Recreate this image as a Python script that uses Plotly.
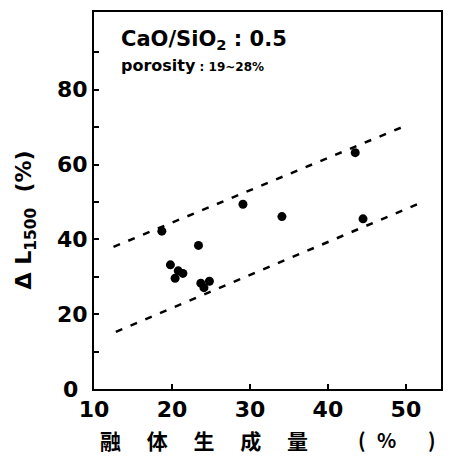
import plotly.graph_objects as go

# data points: melt formation (%) vs ΔL1500 (%)
melt_x = [18.7, 29.1, 34.1, 44.5, 43.5, 23.4, 19.8, 20.8, 21.4, 20.4, 23.7, 24.8, 24.1]
dl_y = [42.2, 49.4, 46.1, 45.5, 63.2, 38.4, 33.2, 31.6, 30.9, 29.6, 28.3, 28.8, 27.1]

# band lines (dashed)
upper_x = [12.5, 50.2]
upper_y = [38.0, 70.6]
lower_x = [12.8, 51.9]
lower_y = [15.3, 49.8]

y_tickvals = [0, 10, 20, 30, 40, 50, 60, 70, 80, 90]
y_ticktext = ["", "", "20", "", "40", "", "60", "", "80", ""]
x_tickvals = [10, 20, 30, 40, 50]
x_ticktext = ["10", "20", "30", "40", "50"]

fig = go.Figure()
for lx, ly in [(upper_x, upper_y), (lower_x, lower_y)]:
    fig.add_trace(go.Scatter(x=lx, y=ly, mode="lines",
                             line=dict(color="black", width=2.5, dash="7px,9px"),
                             showlegend=False, hoverinfo="skip"))
fig.add_trace(go.Scatter(x=melt_x, y=dl_y, mode="markers",
                         marker=dict(color="black", size=9),
                         showlegend=False))

tf = dict(family="DejaVu Sans", size=22, color="black", weight="bold")
cjk = dict(family="Noto Sans CJK SC", size=21, color="black", weight="bold")
par = dict(family="Noto Sans CJK SC", size=20, color="black", weight="bold")
fig.update_layout(
    width=451, height=460,
    margin=dict(l=94, r=10, t=12, b=71),
    plot_bgcolor="white", paper_bgcolor="white",
    xaxis=dict(range=[10, 54.5], tickvals=x_tickvals, ticktext=x_ticktext,
               ticks="inside", ticklen=5, tickwidth=2, tickcolor="black",
               showline=True, linecolor="black", linewidth=2, mirror=True,
               showgrid=False, zeroline=False, automargin=False, tickfont=tf),
    yaxis=dict(range=[0, 100.8], tickvals=y_tickvals, ticktext=y_ticktext,
               ticks="inside", ticklen=5, tickwidth=2, tickcolor="black",
               showline=True, linecolor="black", linewidth=2, mirror=True,
               showgrid=False, zeroline=False, automargin=False, tickfont=tf),
    annotations=[
        dict(text="0", xref="paper", yref="paper", x=-0.069, y=0.0,
             xanchor="center", yanchor="middle", showarrow=False, font=tf),
        dict(text="<b>CaO/SiO<sub>2</sub> : 0.5</b>", xref="paper", yref="paper",
             x=0.072, y=0.926, xanchor="left", yanchor="middle", showarrow=False,
             font=dict(family="DejaVu Sans", size=21, color="black")),
        dict(text="<b>porosity<span style='font-size:12px'> : 19~28%</span></b>",
             xref="paper", yref="paper",
             x=0.072, y=0.857, xanchor="left", yanchor="middle", showarrow=False,
             font=dict(family="DejaVu Sans", size=16, color="black")),
        dict(text="<b>Δ L<sub>1500</sub>  (%)</b>", xref="paper", yref="paper",
             x=-0.198, y=0.448, xanchor="center", yanchor="middle", showarrow=False,
             textangle=-90, font=dict(family="DejaVu Sans", size=22, color="black")),
        dict(text="融　 体　 生　 成　 量", xref="paper", yref="paper",
             x=0.317, y=-0.135, xanchor="center", yanchor="middle", showarrow=False,
             font=cjk),
        dict(text="(", xref="paper", yref="paper", x=0.772, y=-0.135,
             xanchor="center", yanchor="middle", showarrow=False, font=par),
        dict(text="%", xref="paper", yref="paper", x=0.844, y=-0.135,
             xanchor="center", yanchor="middle", showarrow=False, font=par),
        dict(text=")", xref="paper", yref="paper", x=0.974, y=-0.135,
             xanchor="center", yanchor="middle", showarrow=False, font=par),
    ],
)
fig.write_html("out.html", config={"displayModeBar": False},
               post_script="document.body.style.margin='0';document.body.style.overflow='hidden';")
